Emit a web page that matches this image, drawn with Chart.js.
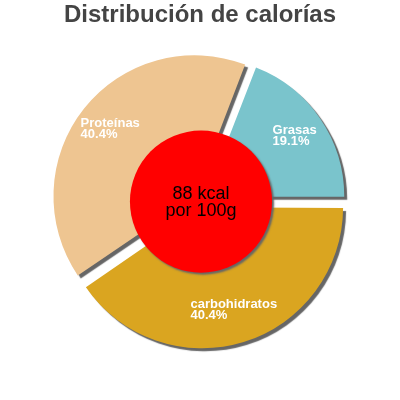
<!DOCTYPE html>
<html lang="es">
  <head>
    <meta charset="UTF-8" />
    <title>Distribución de calorías</title>
    <style>
      html, body { margin: 0; padding: 0; background: #fff; }
      #chart-box { width: 400px; height: 400px; }
    </style>
  </head>
  <body>
    <div id="chart-box"><canvas id="myChart"></canvas></div>
    <script src="https://cdn.jsdelivr.net/npm/chart.js"></script>
    <script>
      const title = 'Distribución de calorías'
      const labels = ['Grasas', 'carbohidratos', 'Proteínas']
      const percents = [19.1, 40.4, 40.4]
      const colors = ['#7ac4cc', '#daa520', '#eec591']
      const centerLines = ['88 kcal', 'por 100g']

      const FONT = "'Liberation Sans', Arial, sans-serif"

      // grey drop shadow under every slice
      const shadowPlugin = {
        id: 'sliceShadow',
        beforeDatasetsDraw(chart) {
          const ctx = chart.ctx
          ctx.save()
          ctx.shadowColor = '#666'
          ctx.shadowOffsetX = 3
          ctx.shadowOffsetY = 3
          ctx.shadowBlur = 1
        },
        afterDatasetsDraw(chart) {
          chart.ctx.restore()
        }
      }

      // red disc in the middle + slice labels
      const decorPlugin = {
        id: 'decor',
        afterDraw(chart) {
          const ctx = chart.ctx
          const arcs = chart.getDatasetMeta(0).data
          const { x, y, outerRadius } = arcs[0]
          const shift = chart.options.elements.arc.offset / 4

          ctx.save()
          ctx.font = 'bold 13px ' + FONT
          ctx.fillStyle = '#fff'
          ctx.textBaseline = 'middle'
          ctx.textAlign = 'left'
          arcs.forEach((arc, i) => {
            const mid = (arc.startAngle + arc.endAngle) / 2
            const r = outerRadius * 0.78 + shift
            const lx = x + Math.cos(mid) * r
            const ly = y + Math.sin(mid) * r
            const lines = [labels[i], percents[i].toFixed(1) + '%']
            const w = Math.max(...lines.map((t) => ctx.measureText(t).width))
            ctx.fillText(lines[0], lx - w / 2, ly - 5.5)
            ctx.fillText(lines[1], lx - w / 2, ly + 5.5)
          })
          ctx.restore()

          ctx.save()
          ctx.shadowColor = '#666'
          ctx.shadowOffsetX = 2
          ctx.shadowOffsetY = 2
          ctx.shadowBlur = 2
          ctx.fillStyle = '#ff0000'
          ctx.beginPath()
          ctx.arc(x + 1, y + 1, outerRadius * 0.515, 0, Math.PI * 2)
          ctx.fill()
          ctx.restore()

          ctx.save()
          ctx.font = '18px ' + FONT
          ctx.fillStyle = '#000'
          ctx.textAlign = 'center'
          ctx.textBaseline = 'middle'
          ctx.fillText(centerLines[0], x + 1, y - 7)
          ctx.fillText(centerLines[1], x + 1, y + 10)
          ctx.restore()
        }
      }

      const ctx = document.getElementById('myChart')
      const myChart = new Chart(ctx, {
        type: 'pie',
        data: {
          labels: labels,
          datasets: [
            {
              data: percents,
              backgroundColor: colors,
              borderWidth: 0
            }
          ]
        },
        options: {
          responsive: true,
          maintainAspectRatio: false,
          animation: false,
          radius: 138,
          rotation: 90 - percents[0] * 3.6,
          elements: { arc: { offset: 28 } },
          layout: { padding: { left: 53, right: 53, bottom: 52, top: 0 } },
          plugins: {
            legend: { display: false },
            tooltip: { enabled: false },
            title: {
              display: true,
              text: title,
              color: '#444',
              font: { family: FONT, size: 24, weight: 'bold' },
              padding: { top: 1, bottom: 23.4 }
            }
          }
        },
        plugins: [shadowPlugin, decorPlugin]
      })
    </script>
  </body>
</html>
